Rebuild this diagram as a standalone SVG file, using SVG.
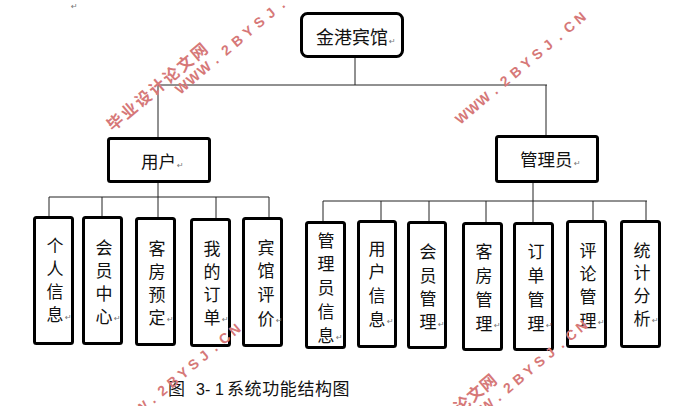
<svg xmlns="http://www.w3.org/2000/svg" width="681" height="406" viewBox="0 0 681 406">
<style>
.box{fill:#fff;stroke:#000;stroke-width:3}
.ln{stroke:#222;stroke-width:1;fill:none}
.t{font-family:"Noto Sans CJK SC","Liberation Serif",serif;font-size:17px;fill:#111;text-anchor:middle}
.th{font-family:"Noto Sans CJK SC","Liberation Sans",sans-serif;font-size:17.5px;fill:#111}
.rm{font-family:"DejaVu Sans",sans-serif;font-size:8px;fill:#777}
.cap{font-family:"Noto Sans CJK SC","Liberation Sans",sans-serif;font-size:17px;fill:#111}
.capn{font-family:"Liberation Sans",sans-serif;font-size:16px;fill:#111}
.wm{font-family:"Liberation Sans",sans-serif;font-weight:bold;font-size:14px;fill:#d67878;text-anchor:middle}
.wmc{font-family:"Noto Sans CJK SC",sans-serif;font-weight:bold;font-size:16px;fill:#d67878;text-anchor:middle}
</style>
<rect width="681" height="406" fill="#fff"/>
<text class="rm" x="71" y="9">↵</text>

<g id="connectors">
<path class="ln" d="M355 58V85M158 85H547M158 85V137M546 85V135"/>
<path class="ln" d="M158 183V217M49 197H269M49 197V216M102 197V216M216 197V218M269 197V217"/>
<path class="ln" d="M533 183V222M323 201H647M323 201V221M381 201V220M429 201V221M486 201V222M593 201V220M646 201V220"/>
</g>

<g id="n-root">
<rect class="box" x="301.5" y="13.5" width="101" height="43" rx="6"/>
<text class="th" x="316" y="44" style="font-size:18px">金港宾馆</text>
<text class="rm" x="389" y="44">↵</text>
</g>
<g id="n-user">
<rect class="box" x="108.5" y="138.5" width="101" height="43" rx="2"/>
<text class="th" x="141" y="168">用户</text>
<text class="rm" x="177" y="168">↵</text>
</g>
<g id="n-admin">
<rect class="box" x="496.5" y="136.5" width="101" height="45" rx="2"/>
<text class="th" x="520" y="166">管理员</text>
<text class="rm" x="574" y="166">↵</text>
</g>

<g id="n-geren">
<rect class="box" x="34.5" y="217.5" width="38" height="126" rx="2"/>
<text class="t"><tspan x="55" y="251.5">个</tspan><tspan x="55" y="274.8">人</tspan><tspan x="55" y="298.1">信</tspan><tspan x="55" y="321.4">息</tspan></text>
<text class="rm" x="65" y="320">↵</text>
</g>
<g id="n-huiyuan">
<rect class="box" x="83.5" y="217.5" width="38" height="126" rx="2"/>
<text class="t"><tspan x="104" y="253.5">会</tspan><tspan x="104" y="276.5">员</tspan><tspan x="104" y="299.5">中</tspan><tspan x="104" y="322.5">心</tspan></text>
<text class="rm" x="114" y="321">↵</text>
</g>
<g id="n-kefang">
<rect class="box" x="136.5" y="218.5" width="38" height="126" rx="2"/>
<text class="t"><tspan x="157" y="254.5">客</tspan><tspan x="157" y="277.5">房</tspan><tspan x="157" y="300.5">预</tspan><tspan x="157" y="323.5">定</tspan></text>
<text class="rm" x="167" y="322">↵</text>
</g>
<g id="n-dingdan">
<rect class="box" x="191.5" y="219.5" width="38" height="126" rx="2"/>
<text class="t"><tspan x="212" y="254.5">我</tspan><tspan x="212" y="277.7">的</tspan><tspan x="212" y="300.9">订</tspan><tspan x="212" y="324">单</tspan></text>
<text class="rm" x="222" y="322">↵</text>
</g>
<g id="n-pingjia">
<rect class="box" x="243.5" y="218.5" width="38" height="127" rx="2"/>
<text class="t"><tspan x="266" y="253.5">宾</tspan><tspan x="266" y="277">馆</tspan><tspan x="266" y="300.5">评</tspan><tspan x="266" y="324.5">价</tspan></text>
<text class="rm" x="276" y="323">↵</text>
</g>

<g id="n-glyxx">
<rect class="box" x="306.5" y="222.5" width="38" height="125" rx="2"/>
<text class="t"><tspan x="326" y="246.5">管</tspan><tspan x="326" y="270.3">理</tspan><tspan x="326" y="294">员</tspan><tspan x="326" y="317.8">信</tspan><tspan x="326" y="341.5">息</tspan></text>
<text class="rm" x="336" y="340">↵</text>
</g>
<g id="n-yhxx">
<rect class="box" x="358.5" y="221.5" width="37" height="125" rx="2"/>
<text class="t"><tspan x="377" y="254.8">用</tspan><tspan x="377" y="278.4">户</tspan><tspan x="377" y="302">信</tspan><tspan x="377" y="325.6">息</tspan></text>
<text class="rm" x="387" y="324">↵</text>
</g>
<g id="n-hygl">
<rect class="box" x="408.5" y="222.5" width="37" height="125" rx="2"/>
<text class="t"><tspan x="428" y="258.2">会</tspan><tspan x="428" y="281.5">员</tspan><tspan x="428" y="304.8">管</tspan><tspan x="428" y="328.2">理</tspan></text>
<text class="rm" x="438" y="327">↵</text>
</g>
<g id="n-kfgl">
<rect class="box" x="463.5" y="223.5" width="38" height="126" rx="2"/>
<text class="t"><tspan x="484" y="258.2">客</tspan><tspan x="484" y="282">房</tspan><tspan x="484" y="305.8">管</tspan><tspan x="484" y="329.5">理</tspan></text>
<text class="rm" x="494" y="328">↵</text>
</g>
<g id="n-ddgl">
<rect class="box" x="514.5" y="223.5" width="38" height="126" rx="2"/>
<text class="t"><tspan x="536" y="258.2">订</tspan><tspan x="536" y="282">单</tspan><tspan x="536" y="305.8">管</tspan><tspan x="536" y="329.5">理</tspan></text>
<text class="rm" x="546" y="328">↵</text>
</g>
<g id="n-plgl">
<rect class="box" x="567.5" y="221.5" width="38" height="125" rx="2"/>
<text class="t"><tspan x="588" y="256.5">评</tspan><tspan x="588" y="279.8">论</tspan><tspan x="588" y="303.1">管</tspan><tspan x="588" y="326.5">理</tspan></text>
<text class="rm" x="598" y="325">↵</text>
</g>
<g id="n-tjfx">
<rect class="box" x="621.5" y="221.5" width="38" height="125" rx="2"/>
<text class="t"><tspan x="642" y="256.5">统</tspan><tspan x="642" y="279.2">计</tspan><tspan x="642" y="301.9">分</tspan><tspan x="642" y="324.5">析</tspan></text>
<text class="rm" x="652" y="323">↵</text>
</g>

<text class="cap" y="395"><tspan x="168">图</tspan><tspan class="capn" x="196">3-</tspan><tspan class="capn" x="215">1</tspan><tspan x="227" style="letter-spacing:0.6px">系统功能结构图</tspan></text>

<g id="watermarks">
<text class="wmc" transform="translate(115 122) rotate(-40)" y="6" x="0 18.3 36.6 54.9 73.2 91.5 109.8">毕业设计论文网</text>
<text class="wm" transform="translate(182 87) rotate(-40)" y="5" x="0 14.4 28.8 43.2 57.6 72 86.4 100.8 115.2 129.6 144 158.4">WWW.2BYSJ.CN</text>
<text class="wm" transform="translate(462 117) rotate(-40)" y="5" x="0 14 28 42 56 70 84 98 112 126 140 154">WWW.2BYSJ.CN</text>
<text class="wm" transform="translate(121 425) rotate(-40)" y="5" x="0 13.5 27 40.5 54 67.5 81 94.5 108 121.5 135 148.5">WWW.2BYSJ.CN</text>
<text class="wm" transform="translate(466 423) rotate(-40)" y="5" x="0 13.7 27.4 41.1 54.8 68.5 82.2 95.9 109.6 123.3 137 150.7">WWW.2BYSJ.CN</text>
<text class="wmc" transform="translate(410 448) rotate(-40)" y="6" x="0 17 34 51 68 85 102">毕业设计论文网</text>
</g>
</svg>
